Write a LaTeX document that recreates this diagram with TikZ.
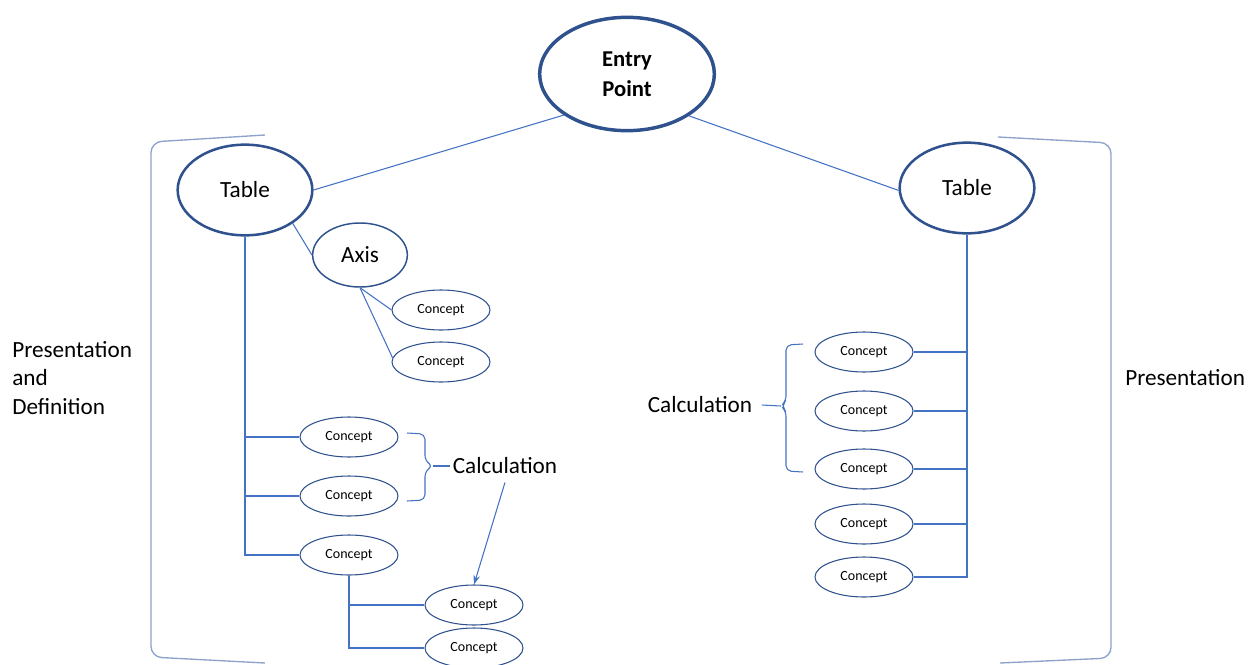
\documentclass[tikz,border=0pt]{standalone}
\usepackage{fontspec}
\setmainfont{Carlito}
\usetikzlibrary{shapes.geometric,arrows.meta}
\definecolor{ebord}{RGB}{47,82,143}
\definecolor{lblue}{RGB}{68,114,196}
\definecolor{bgray}{RGB}{140,162,202}
\newcommand{\bigfont}{\fontsize{17.4}{21.4}\selectfont}
\tikzset{
  entrybox/.style={ellipse, draw=ebord, line width=2.6pt, minimum width=131pt, minimum height=85pt,
    inner sep=0pt, align=center, font=\fontsize{17}{22.5}\selectfont\bfseries},
  tablebox/.style={ellipse, draw=ebord, line width=1.9pt, minimum width=101pt, minimum height=68pt,
    inner sep=0pt, font=\bigfont},
  axisbox/.style={ellipse, draw=ebord, line width=1.1pt, minimum width=71pt, minimum height=48pt,
    inner sep=0pt, font=\bigfont},
  concept/.style={ellipse, draw=ebord, line width=0.8pt, minimum width=73.5pt, minimum height=30pt,
    inner sep=0pt, font=\fontsize{10.5}{12}\selectfont},
  link/.style={draw=lblue, line width=0.8pt},
  bracket/.style={draw=bgray, line width=1pt, rounded corners=8pt},
  brace/.style={draw=lblue, line width=0.8pt, rounded corners=4pt},
  label/.style={inner sep=0pt, font=\bigfont}
}
\begin{document}
\begin{tikzpicture}[x=0.75pt, y=-0.75pt]
\useasboundingbox (0,0) rectangle (1249,664);

% top node and the two tables
\node[entrybox] (entry) at (627,74) {Entry\\Point};
\node[tablebox] (tl) at (245,190) {Table};
\node[tablebox] (tr) at (967,188) {Table};

% left side: axis and its concepts
\node[axisbox] (axis) at (360,255) {Axis};
\node[concept] (a1) at (441,310) {Concept};
\node[concept] (a2) at (441,362) {Concept};

% left side: concepts hanging from the table
\node[concept] (l1) at (349,437) {Concept};
\node[concept] (l2) at (349,496) {Concept};
\node[concept] (l3) at (349,555) {Concept};
\node[concept] (l4) at (474,605) {Concept};
\node[concept] (l5) at (474,648) {Concept};

% right side concepts
\node[concept] (r1) at (864,352) {Concept};
\node[concept] (r2) at (864,411) {Concept};
\node[concept] (r3) at (864,469) {Concept};
\node[concept] (r4) at (864,524) {Concept};
\node[concept] (r5) at (864,577) {Concept};

% labels
\node[label] (calcL) at (505,466) {Calculation};
\node[label] (calcR) at (700,405) {Calculation};
\node[label, anchor=west, align=left] (presdef) at (12,378) {Presentation\\and\\Definition};
\node[label, anchor=west] (pres) at (1125,378) {Presentation};

% connectors
\draw[link] (entry.213) -- (tl.east);
\draw[link] (entry.326) -- (tr.182);
\draw[link] (tl.-35) -- (axis.west);
\draw[link] (axis.south) -- (a1.west);
\draw[link] (axis.south) -- (a2.175);
% left tree: one trunk, then the branches
\draw[link] (tl.south) |- (l3.west);
\draw[link] (tl.south |- l1.west) -- (l1.west);
\draw[link] (tl.south |- l2.west) -- (l2.west);
\draw[link] (l3.south) |- (l5.west);
\draw[link] (l3.south |- l4.west) -- (l4.west);
% right tree
\draw[link] (tr.south) |- (r5.east);
\foreach \r in {r1,r2,r3,r4}
  \draw[link] (tr.south |- \r.east) -- (\r.east);
\draw[link, -{Stealth[length=7pt,width=5pt]}] ([yshift=-6pt]calcL.south) -- (l4.north);

% calculation braces
\coordinate (tipL) at (433,466);
\draw[brace] (407,433) -- (425,434) -- (425,461) -- (tipL) -- (425,471) -- (425,500) -- (407,501);
\draw[link] (tipL) -- ([xshift=-2pt]calcL.west);
\coordinate (tipR) at (781,406);
\draw[brace] (803,344) -- (786,345) -- (786,401) -- (tipR) -- (786,411) -- (786,471) -- (803,472);
\draw[link] (tipR) -- ([xshift=7pt]calcR.east);

% outer brackets
\draw[bracket] (265,135) -- (151,142) -- (151,657) -- (265,663);
\draw[bracket] (998,137) -- (1111,143) -- (1111,658) -- (1000,663);
\end{tikzpicture}
\end{document}
